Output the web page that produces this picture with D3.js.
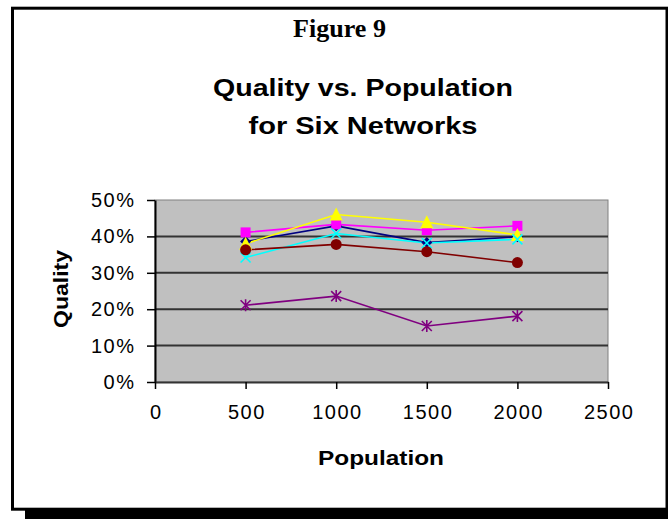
<!DOCTYPE html>
<html>
<head>
<meta charset="utf-8">
<script src="https://cdn.jsdelivr.net/npm/d3@7"></script>
<style>
  html, body { margin: 0; padding: 0; background: #fff; }
  svg { display: block; }
</style>
</head>
<body>
<svg id="chart" width="668" height="519"></svg>
<script>
// ---- data ----
const populations = [500, 1000, 1500, 2000];
const seriesNames = ["Network 1", "Network 2", "Network 3", "Network 4", "Network 5", "Network 6"];
const navyValues    = [0.386, 0.429, 0.383, 0.399];
const magentaValues = [0.411, 0.433, 0.417, 0.429];
const yellowValues  = [0.380, 0.460, 0.439, 0.404];
const cyanValues    = [0.342, 0.408, 0.382, 0.392];
const purpleValues  = [0.211, 0.236, 0.154, 0.181];
const darkRedValues = [0.363, 0.378, 0.358, 0.328];
const xTicks = [0, 500, 1000, 1500, 2000, 2500];
const yTicks = [0, 0.1, 0.2, 0.3, 0.4, 0.5];
const figureLabel = "Figure 9";
const titleLines = ["Quality vs. Population", "for Six Networks"];
const xTitle = "Population";
const yTitle = "Quality";

const series = [
  { name: seriesNames[0], values: navyValues,    color: "#000080", marker: "diamond" },
  { name: seriesNames[1], values: magentaValues, color: "#FF00FF", marker: "square" },
  { name: seriesNames[2], values: yellowValues,  color: "#FFFF00", marker: "triangle" },
  { name: seriesNames[3], values: cyanValues,    color: "#00FFFF", marker: "x" },
  { name: seriesNames[4], values: purpleValues,  color: "#800080", marker: "star" },
  { name: seriesNames[5], values: darkRedValues, color: "#800000", marker: "circle" }
];

const svg = d3.select("#chart");
const sans = "Arial, 'Liberation Sans', sans-serif";

// ---- frame ----
svg.append("rect").attr("x", 25).attr("y", 509).attr("width", 643).attr("height", 10).attr("fill", "#000");
svg.append("rect").attr("x", 12.5).attr("y", 8.2).attr("width", 654.5).attr("height", 501)
  .attr("fill", "#fff").attr("stroke", "#000").attr("stroke-width", 3);

// ---- labels ----
svg.append("text").text(figureLabel)
  .attr("x", 339.5).attr("y", 37).attr("text-anchor", "middle")
  .attr("font-family", "'Liberation Serif', 'Times New Roman', serif")
  .attr("font-weight", "bold").attr("font-size", 26)
  .attr("textLength", 93).attr("lengthAdjust", "spacingAndGlyphs");

const titleY = [96, 133.5];
const titleW = [300, 229];
titleLines.forEach((t, i) => {
  svg.append("text").text(t)
    .attr("x", 363).attr("y", titleY[i]).attr("text-anchor", "middle")
    .attr("font-family", sans).attr("font-weight", "bold").attr("font-size", 24.5)
    .attr("textLength", titleW[i]).attr("lengthAdjust", "spacingAndGlyphs");
});

// ---- scales ----
const x = d3.scaleLinear().domain([0, 2500]).range([155, 608]);
const y = d3.scaleLinear().domain([0, 0.5]).range([382, 200]);

// plot area
svg.append("rect")
  .attr("x", x(0)).attr("y", y(0.5))
  .attr("width", x(2500) - x(0)).attr("height", y(0) - y(0.5))
  .attr("fill", "#C0C0C0").attr("stroke", "#808080").attr("stroke-width", 1);

// gridlines
svg.append("g").selectAll("line").data(yTicks.filter(d => d > 0 && d < 0.5)).join("line")
  .attr("x1", x(0)).attr("x2", x(2500))
  .attr("y1", d => y(d)).attr("y2", d => y(d))
  .attr("stroke", "#333").attr("stroke-width", 2);

// axes
const yAxis = svg.append("g").attr("transform", `translate(${x(0)},0)`)
  .call(d3.axisLeft(y).tickValues(yTicks).tickFormat(d3.format(".0%")).tickSize(8).tickSizeOuter(0).tickPadding(13));
const xAxis = svg.append("g").attr("transform", `translate(0,${y(0)})`)
  .call(d3.axisBottom(x).tickValues(xTicks).tickFormat(d3.format("d")).tickSize(7).tickSizeOuter(0).tickPadding(0));

[yAxis, xAxis].forEach(g => {
  g.select(".domain").attr("stroke", "#000").attr("stroke-width", 2);
  g.selectAll(".tick line").attr("stroke", "#000").attr("stroke-width", 1.5);
  g.selectAll(".tick text").attr("fill", "#000")
    .attr("font-family", sans).attr("font-size", 20).style("letter-spacing", "1.5px");
});
xAxis.select(".domain").attr("stroke", "#333");
yAxis.selectAll(".tick text").attr("dy", "0.32em").attr("dx", "1.5px");
xAxis.selectAll(".tick text").attr("dy", null).attr("y", 37).attr("dx", "0.75px");

// axis titles
svg.append("text").text(xTitle)
  .attr("x", 381).attr("y", 465).attr("text-anchor", "middle")
  .attr("font-family", sans).attr("font-weight", "bold").attr("font-size", 21)
  .attr("textLength", 126).attr("lengthAdjust", "spacingAndGlyphs");
svg.append("text").text(yTitle)
  .attr("transform", "translate(68,289) rotate(-90)").attr("text-anchor", "middle")
  .attr("font-family", sans).attr("font-weight", "bold").attr("font-size", 20)
  .attr("textLength", 78).attr("lengthAdjust", "spacingAndGlyphs");

// ---- lines ----
const line = d3.line().x((d, i) => x(populations[i])).y(d => y(d));
const plot = svg.append("g");
series.forEach(s => {
  plot.append("path").attr("d", line(s.values))
    .attr("fill", "none").attr("stroke", s.color).attr("stroke-width", 1.6);
});

// ---- markers ----
function markerPath(type) {
  const r = 5;
  switch (type) {
    case "diamond": return `M0,${-r-0.5}L${r+0.5},0L0,${r+0.5}L${-r-0.5},0Z`;
    case "square": return `M${-r},${-r}H${r}V${r}H${-r}Z`;
    case "triangle": return `M0,-7L6.5,6H-6.5Z`;
    case "x": return `M${-r},${-r}L${r},${r}M${r},${-r}L${-r},${r}`;
    case "star": return `M${-r},${-r}L${r},${r}M${r},${-r}L${-r},${r}M0,${-r-1}V${r+1}`;
    default: return null;
  }
}
series.forEach(s => {
  const g = plot.append("g");
  const pts = g.selectAll("g").data(s.values).join("g")
    .attr("transform", (d, i) => `translate(${x(populations[i])},${y(d)})`);
  if (s.marker === "circle") {
    pts.append("circle").attr("r", 5.5).attr("fill", s.color);
  } else if (s.marker === "x" || s.marker === "star") {
    pts.append("path").attr("d", markerPath(s.marker))
      .attr("fill", "none").attr("stroke", s.color).attr("stroke-width", 1.6);
  } else {
    pts.append("path").attr("d", markerPath(s.marker)).attr("fill", s.color);
  }
});
</script>
</body>
</html>
